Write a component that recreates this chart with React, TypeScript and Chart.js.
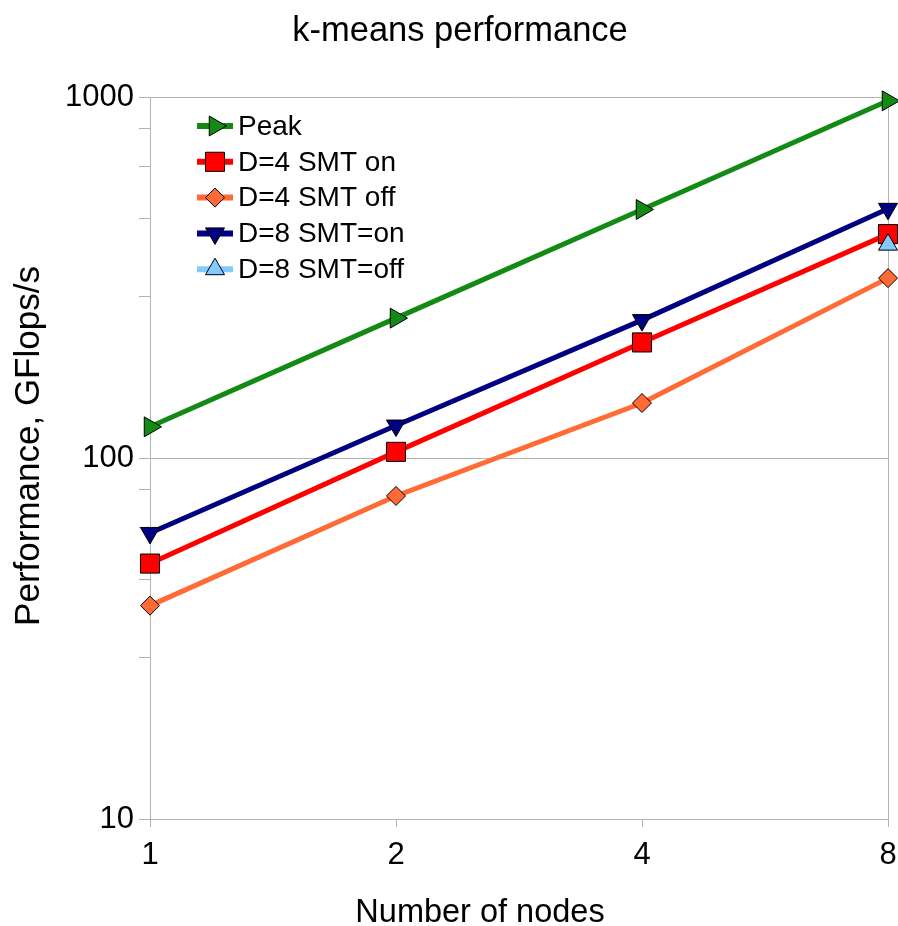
import React, { useEffect, useRef } from 'react';
import { Chart, registerables } from 'chart.js';
import { drawPoint } from 'chart.js/helpers';

Chart.register(...registerables);

const chartTitle = 'k-means performance';
const xTitle = 'Number of nodes';
const yTitle = 'Performance, GFlops/s';
const nodes = ['1', '2', '4', '8'];
const seriesNames = ['Peak', 'D=4 SMT on', 'D=4 SMT off', 'D=8 SMT=on', 'D=8 SMT=off'];
const peak = [122, 244, 488, 976];
const d4SmtOn = [51, 104, 209, 417];
const d4SmtOff = [39, 78.5, 142, 315];
const d8SmtOn = [62, 123, 241, 490];
const d8SmtOff = [null, null, null, 390];
const yMajorTicks = [10, 100, 1000];
const yMinorTicks = [28, 46, 64, 82, 280, 460, 640, 820];

const FONT = "'Liberation Sans', Arial, sans-serif";
const GRID = '#b3b3b3';

const seriesValues = [peak, d4SmtOn, d4SmtOff, d8SmtOn, d8SmtOff];
const seriesColors = ['#138a13', '#ff0000', '#ff6a35', '#000080', '#83caff'];
const seriesStyles = ['triangle', 'rect', 'rectRot', 'triangle', 'triangle'];
const seriesRotation = [90, 0, 0, 180, 0];
const seriesRadius = [11.5, 13.5, 9.5, 11, 11];

const textPlugin = {
  id: 'textPlugin',
  afterDraw(chart: any) {
    const ctx = chart.ctx as CanvasRenderingContext2D;
    const area = chart.chartArea;
    ctx.save();
    ctx.fillStyle = '#000';
    ctx.textBaseline = 'alphabetic';
    ctx.textAlign = 'center';
    ctx.font = `34.5px ${FONT}`;
    ctx.fillText(chartTitle, 460, 41);
    ctx.font = `32.5px ${FONT}`;
    ctx.fillText(xTitle, 480, 922);
    ctx.save();
    ctx.font = `35px ${FONT}`;
    ctx.translate(39, 446);
    ctx.rotate(-Math.PI / 2);
    ctx.fillText(yTitle, 0, 0);
    ctx.restore();

    // legend inside the plot area
    const ds = chart.data.datasets;
    ctx.font = `28px ${FONT}`;
    ctx.textAlign = 'left';
    ctx.textBaseline = 'middle';
    for (let i = 0; i < ds.length; i++) {
      const y = area.top + 29 + i * 35.8;
      const x0 = area.left + 47;
      ctx.strokeStyle = ds[i].borderColor;
      ctx.lineWidth = 6;
      ctx.beginPath();
      ctx.moveTo(x0, y);
      ctx.lineTo(x0 + 36, y);
      ctx.stroke();
      ctx.fillStyle = ds[i].pointBackgroundColor;
      ctx.strokeStyle = '#000';
      ctx.lineWidth = 1;
      drawPoint(ctx, {
        pointStyle: ds[i].pointStyle,
        rotation: ds[i].pointRotation,
        radius: ds[i].pointRadius,
        borderWidth: 1,
      } as any, x0 + 18, y);
      ctx.fillStyle = '#000';
      ctx.fillText(ds[i].label, x0 + 41, y + 1);
    }
    ctx.restore();
  },
};

export default function App() {
  const ref = useRef<HTMLCanvasElement | null>(null);
  useEffect(() => {
    document.body.style.margin = '0';
    const canvas = ref.current!;
    const datasets = seriesNames.map((name, i) => ({
      label: name,
      data: seriesValues[i],
      borderColor: seriesColors[i],
      backgroundColor: seriesColors[i],
      pointBackgroundColor: seriesColors[i],
      pointBorderColor: '#000',
      pointBorderWidth: 1,
      pointStyle: seriesStyles[i],
      pointRotation: seriesRotation[i],
      pointRadius: seriesRadius[i],
      borderWidth: 5,
      tension: 0,
      clip: false,
      order: seriesNames.length - i,
    }));
    const chart = new Chart(canvas, {
      type: 'line',
      data: { labels: nodes, datasets: datasets as any },
      options: {
        responsive: false,
        animation: false,
        layout: { autoPadding: false, padding: { top: 97, left: 0, right: 10, bottom: 0 } },
        plugins: {
          legend: { display: false },
          title: { display: false },
          tooltip: { enabled: false },
        },
        scales: {
          x: {
            type: 'category',
            offset: false,
            afterFit: (s: any) => { s.height = 107; s.paddingRight = 0; s.paddingLeft = 0; },
            grid: {
              color: (c: any) => (c.index === nodes.length - 1 ? GRID : 'rgba(0,0,0,0)'),
              tickColor: GRID,
              tickLength: 8,
              lineWidth: 1,
            },
            border: { color: GRID, width: 1 },
            ticks: {
              color: '#000',
              font: { family: FONT, size: 31 },
              padding: 10,
              maxRotation: 0,
              autoSkip: false,
            },
          },
          y: {
            type: 'logarithmic',
            min: 10,
            max: 1000,
            afterFit: (s: any) => { s.width = 150; s.paddingTop = 0; s.paddingBottom = 0; },
            afterBuildTicks: (s: any) => {
              s.ticks = [...yMajorTicks, ...yMinorTicks]
                .sort((a, b) => a - b)
                .map((v) => ({ value: v, major: yMajorTicks.includes(v) }));
            },
            grid: {
              color: (c: any) => (c.tick && yMajorTicks.includes(c.tick.value) ? GRID : 'rgba(0,0,0,0)'),
              tickColor: GRID,
              tickLength: 11,
              lineWidth: 1,
            },
            border: { color: GRID, width: 1 },
            ticks: {
              color: '#000',
              font: { family: FONT, size: 31 },
              padding: 5,
              autoSkip: false,
              callback: (v: any) => (yMajorTicks.includes(Number(v)) ? String(v) : ''),
            },
          },
        },
      },
      plugins: [textPlugin],
    });
    return () => chart.destroy();
  }, []);
  return <canvas ref={ref} width={898} height={926} style={{ display: 'block' }} />;
}
